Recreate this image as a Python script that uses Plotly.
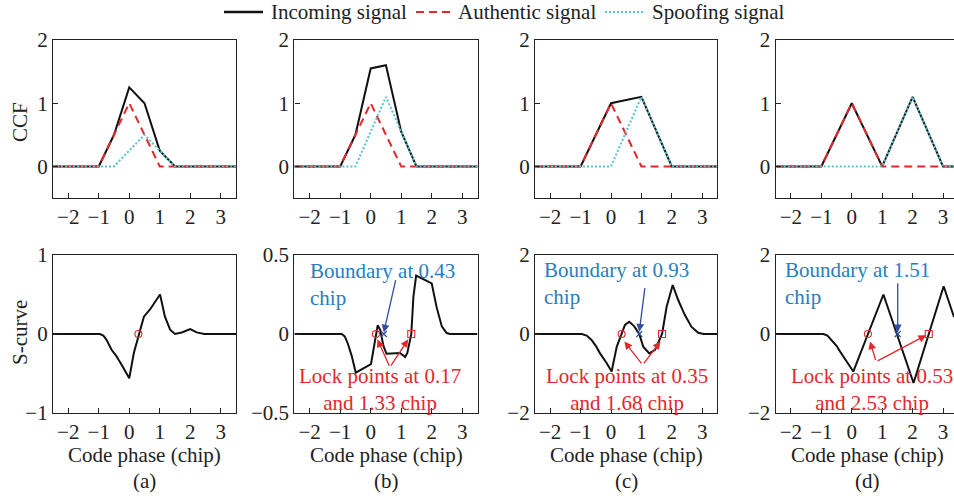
import plotly.graph_objects as go

# ---------------- data ----------------
# Cross-correlation functions (top row), per scenario (a)-(d)
auth_x = [-2.5, -1.0, 0.0, 1.0, 3.5]
auth_y = [0.0, 0.0, 1.0, 0.0, 0.0]

spoof_x = {
    "a": [-2.5, -0.5, 0.5, 1.5, 3.5],
    "b": [-2.5, -0.5, 0.5, 1.5, 3.5],
    "c": [-2.5, 0.0, 1.0, 2.0, 3.5],
    "d": [-2.5, 1.0, 2.0, 3.0, 3.5],
}
spoof_y = {
    "a": [0.0, 0.0, 0.5, 0.0, 0.0],
    "b": [0.0, 0.0, 1.1, 0.0, 0.0],
    "c": [0.0, 0.0, 1.1, 0.0, 0.0],
    "d": [0.0, 0.0, 1.1, 0.0, 0.0],
}
inc_x = {
    "a": [-2.5, -1.0, -0.5, 0.0, 0.5, 1.0, 1.5, 3.5],
    "b": [-2.5, -1.0, -0.5, 0.0, 0.5, 1.0, 1.5, 3.5],
    "c": [-2.5, -1.0, 0.0, 1.0, 2.0, 3.5],
    "d": [-2.5, -1.0, 0.0, 1.0, 2.0, 3.0, 3.5],
}
inc_y = {
    "a": [0.0, 0.0, 0.5, 1.25, 1.0, 0.25, 0.0, 0.0],
    "b": [0.0, 0.0, 0.5, 1.55, 1.6, 0.55, 0.0, 0.0],
    "c": [0.0, 0.0, 1.0, 1.1, 0.0, 0.0],
    "d": [0.0, 0.0, 1.0, 0.0, 1.1, 0.0, 0.0],
}

# Discriminator S-curves (bottom row)
s_x = {
    "a": [-2.5, -0.96, -0.85, -0.75, -0.58, -0.44, -0.25, 0.0, 0.15, 0.31, 0.48,
          0.68, 1.01, 1.17, 1.34, 1.5, 1.72, 2.0, 2.21, 2.46, 3.5],
    "b": [-2.5, -0.95, -0.85, -0.75, -0.62, -0.49, 0.01, 0.09, 0.17, 0.23, 0.31,
          0.42, 0.52, 0.96, 1.13, 1.2, 1.27, 1.33, 1.4, 1.49, 2.0, 2.16, 2.33,
          2.49, 2.6, 3.5],
    "c": [-2.5, -0.96, -0.8, -0.64, -0.5, -0.36, -0.14, 0.02, 0.19, 0.35, 0.46,
          0.6, 0.76, 0.93, 1.06, 1.26, 1.45, 1.68, 1.83, 2.03, 2.21, 2.43, 2.65,
          2.87, 3.05, 3.5],
    "d": [-2.5, -0.93, -0.8, -0.66, -0.5, -0.38, -0.16, 0.05, 1.04, 2.03, 3.02,
          3.36],
}
s_y = {
    "a": [0.0, 0.0, -0.02, -0.07, -0.2, -0.27, -0.39, -0.56, -0.24, 0.0, 0.22,
          0.31, 0.5, 0.22, 0.055, 0.0, 0.02, 0.063, 0.02, 0.0, 0.0],
    "b": [0.0, 0.0, -0.015, -0.06, -0.14, -0.245, -0.19, -0.1, 0.0, 0.056,
          0.027, -0.077, -0.125, -0.12, -0.145, -0.12, -0.056, 0.0, 0.236, 0.37,
          0.32, 0.17, 0.048, 0.006, 0.0, 0.0],
    "c": [0.0, 0.0, -0.04, -0.15, -0.3, -0.49, -0.74, -0.95, -0.32, 0.0, 0.23,
          0.31, 0.2, 0.0, -0.32, -0.49, -0.4, 0.0, 0.69, 1.24, 0.86, 0.48, 0.18,
          0.03, 0.0, 0.0],
    "d": [0.0, 0.0, -0.04, -0.15, -0.3, -0.45, -0.72, -0.95, 1.0, -1.24, 1.21,
          0.43],
}

lock_points = {"a": [0.3], "b": [0.17, 1.33], "c": [0.35, 1.68], "d": [0.53, 2.53]}
boundary = {"b": 0.43, "c": 0.93, "d": 1.51}

panels = ["a", "b", "c", "d"]
ccf_ticks = [0, 1, 2]
s_ticks = {"a": [-1, 0, 1], "b": [-0.5, 0, 0.5], "c": [-2, 0, 2], "d": [-2, 0, 2]}
s_range = {"a": [-1, 1], "b": [-0.5, 0.5], "c": [-2, 2], "d": [-2, 2]}
x_ticks = [-2, -1, 0, 1, 2, 3]
legend_names = ["Incoming signal", "Authentic signal", "Spoofing signal"]

# ---------------- styling ----------------
W, H = 954, 502
FONT = '"Liberation Serif", "Times New Roman", serif'
FS = 21
AX = "#222222"
BLACK = "#111111"
RED = "#e5262b"
CYAN = "#55c3cd"
BLUE_TXT = "#2a7cc0"
BLUE_ARR = "#2f4f9e"

cols_px = [(53, 236), (294.4, 477.5), (535, 717.4), (775.7, 954)]
top_px = (40, 198)
bot_px = (255, 413)
x_rng = {"a": [-2.5, 3.5], "b": [-2.5, 3.5], "c": [-2.5, 3.5], "d": [-2.5, 3.36]}

line_styles = [dict(color=BLACK, width=2),
               dict(color=RED, width=2, dash="8px,5px"),
               dict(color=CYAN, width=2, dash="2px,2px")]


def xd(px):
    return px / W


def yd(py):
    return 1 - py / H


def txt(text, x, y, color=AX, xanchor="center", yanchor="middle", **kw):
    return dict(text=text, x=x, y=y, xref="paper", yref="paper",
                xanchor=xanchor, yanchor=yanchor, showarrow=False,
                font=dict(family=FONT, size=FS, color=color), **kw)


fig = go.Figure()
layout = {}


def axis_common():
    return dict(showline=True, linecolor=AX, linewidth=1.3, ticks="inside",
                ticklen=5, tickwidth=1.3, tickcolor=AX, showgrid=False,
                zeroline=False, tickfont=dict(family=FONT, size=FS, color=AX))


for i, p in enumerate(panels):
    x0, x1 = cols_px[i]
    for row, (t, b) in enumerate([top_px, bot_px]):
        n = i + 1 + 4 * row
        xa = axis_common()
        xa.update(domain=[xd(x0), min(xd(x1), 1.0)], range=x_rng[p],
                  tickvals=x_ticks, anchor=f"y{n}", mirror=True)
        ya = axis_common()
        ya.update(domain=[yd(b), yd(t)], anchor=f"x{n}",
                  mirror=(p != "d"))
        if row == 0:
            ya.update(range=[-0.5, 2], tickvals=ccf_ticks)
        else:
            ya.update(range=s_range[p], tickvals=s_ticks[p])
        layout[f"xaxis{n}"] = xa
        layout[f"yaxis{n}"] = ya

    # CCF traces: incoming, authentic, spoofing
    ccf = [(inc_x[p], inc_y[p]), (auth_x, auth_y), (spoof_x[p], spoof_y[p])]
    for (xs, ys), name, ls in zip(ccf, legend_names, line_styles):
        fig.add_trace(go.Scatter(x=xs, y=ys, mode="lines", line=ls, name=name,
                                 showlegend=False,
                                 xaxis=f"x{i+1}", yaxis=f"y{i+1}"))

    # S-curve
    n = i + 5
    fig.add_trace(go.Scatter(x=s_x[p], y=s_y[p], mode="lines",
                             line=dict(color=BLACK, width=2), showlegend=False,
                             xaxis=f"x{n}", yaxis=f"y{n}"))
    lp = lock_points[p]
    fig.add_trace(go.Scatter(x=lp, y=[0] * len(lp), mode="markers",
                             marker=dict(symbol=["circle-open", "square-open"][:len(lp)],
                                         size=7, color=RED, line=dict(width=1.1)),
                             showlegend=False, xaxis=f"x{n}", yaxis=f"y{n}"))
    if p in boundary:
        fig.add_trace(go.Scatter(x=[boundary[p]], y=[0], mode="markers",
                                 marker=dict(symbol="x-thin", size=6,
                                             line=dict(color=BLUE_ARR, width=1.2)),
                                 showlegend=False, xaxis=f"x{n}", yaxis=f"y{n}"))

annotations = []
shapes = []

# legend drawn along the top edge
leg_lines = [(224, 263), (416, 450), (605, 644)]
leg_text_x = [269, 456, 650]
for (lx0, lx1), tx, name, ls in zip(leg_lines, leg_text_x, legend_names, line_styles):
    shapes.append(dict(type="line", xref="paper", yref="paper",
                       x0=xd(lx0), x1=xd(lx1), y0=yd(12), y1=yd(12),
                       line=dict(color=ls["color"], width=2.4 if ls.get("dash") is None else 2,
                                 dash=ls.get("dash", "solid"))))
    annotations.append(txt(name, xd(tx), yd(12), xanchor="left"))

# axis titles and panel labels
annotations.append(txt("CCF", xd(20), yd(122), textangle=-90))
annotations.append(txt("S-curve", xd(20), yd(333), textangle=-90))
centers = [144.5, 386, 626.2, 867]
for i, p in enumerate(panels):
    annotations.append(txt("Code phase (chip)", xd(centers[i]), yd(455)))
    annotations.append(txt(f"({p})", xd(centers[i]), yd(481)))

# boundary / lock point call-outs: (text pos, arrow tail, arrow tip) in data units
callouts = {
    "b": dict(btxt=(-2.06, 0.316), barr=((0.83, 0.35), (0.43, 0.01)),
              rtxt=(0.3, -0.35), apex=(0.63, -0.21),
              tips=[(0.22, -0.034), (1.23, -0.034)]),
    "c": dict(btxt=(-2.28, 1.27), barr=((1.12, 1.2), (0.93, 0.06)),
              rtxt=(0.52, -1.4), apex=(1.04, -0.78),
              tips=[(0.44, -0.19), (1.63, -0.19)]),
    "d": dict(btxt=(-2.27, 1.27), barr=((1.51, 1.32), (1.51, 0.04)),
              rtxt=(0.66, -1.4), apex=(0.8, -0.7),
              tips=[(0.6, -0.19), (2.45, -0.03)]),
}
for i, p in enumerate(panels):
    if p not in callouts:
        continue
    c = callouts[p]
    n = i + 5
    xr, yr = f"x{n}", f"y{n}"
    annotations.append(dict(text=f"Boundary at {boundary[p]:.2f}<br>chip",
                            x=c["btxt"][0], y=c["btxt"][1], xref=xr, yref=yr,
                            xanchor="left", yanchor="middle", align="left",
                            showarrow=False,
                            font=dict(family=FONT, size=FS, color=BLUE_TXT)))
    (tx, ty), (hx, hy) = c["barr"]
    annotations.append(dict(text="", x=hx, y=hy, ax=tx, ay=ty, xref=xr, yref=yr,
                            axref=xr, ayref=yr, showarrow=True, arrowhead=2,
                            arrowsize=1.2, arrowwidth=1.3, arrowcolor=BLUE_ARR))
    lp = lock_points[p]
    annotations.append(dict(text=f"Lock points at {lp[0]:.2f}<br>and {lp[1]:.2f} chip",
                            x=c["rtxt"][0], y=c["rtxt"][1], xref=xr, yref=yr,
                            xanchor="center", yanchor="middle", align="center",
                            showarrow=False,
                            font=dict(family=FONT, size=FS, color=RED)))
    for hx, hy in c["tips"]:
        annotations.append(dict(text="", x=hx, y=hy, ax=c["apex"][0], ay=c["apex"][1],
                                xref=xr, yref=yr, axref=xr, ayref=yr,
                                showarrow=True, arrowhead=2, arrowsize=1.2,
                                arrowwidth=1.3, arrowcolor=RED))

fig.update_layout(
    width=W, height=H,
    margin=dict(l=0, r=0, t=0, b=0, autoexpand=False),
    paper_bgcolor="white", plot_bgcolor="white",
    font=dict(family=FONT, size=FS, color=AX),
    showlegend=False,
    annotations=annotations,
    shapes=shapes,
    **layout,
)

fig.write_html("out.html")
